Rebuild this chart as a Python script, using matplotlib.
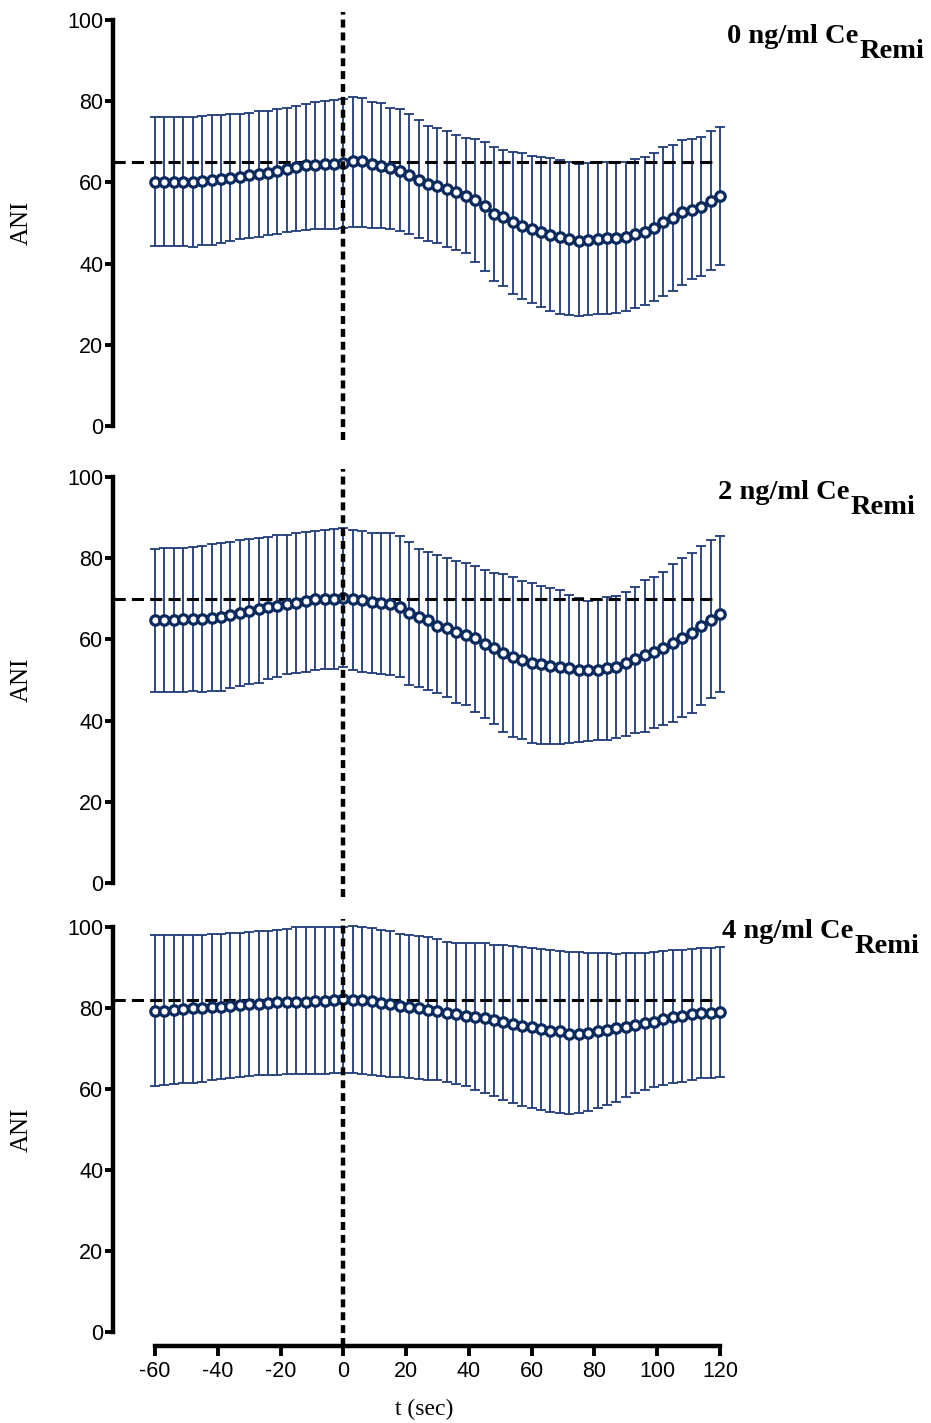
import numpy as np
import matplotlib
matplotlib.use('Agg')
import matplotlib.pyplot as plt

plt.rcParams['font.family'] = ['Liberation Sans', 'DejaVu Sans']
plt.rcParams['axes.unicode_minus'] = False

# sample times (sec), one point every 3 s
t = np.arange(-60, 121, 3)

# 0 ng/ml
mean_0 = [60.2, 60.2, 60.2, 60.1, 60.0, 60.3, 60.5, 60.8, 61.0, 61.4,
          61.7, 62.0, 62.4, 62.8, 63.2, 63.7, 64.2, 64.4, 64.5, 64.6,
          64.9, 65.3, 65.3, 64.6, 64.1, 63.6, 62.8, 61.7, 60.6, 59.7,
          59.0, 58.4, 57.6, 56.7, 55.6, 54.3, 52.2, 51.4, 50.2, 49.3,
          48.5, 47.9, 47.0, 46.6, 46.1, 45.6, 45.8, 46.1, 46.2, 46.4,
          46.6, 47.2, 47.9, 48.8, 50.2, 51.3, 52.6, 53.2, 54.0, 55.3, 56.7]
upper_0 = [76.2, 76.2, 76.2, 76.2, 76.2, 76.4, 76.6, 76.5, 76.8, 76.9,
           77.2, 77.5, 77.7, 78.0, 78.4, 78.8, 79.2, 79.7, 80.1, 80.2,
           80.5, 81.1, 80.9, 79.9, 79.5, 78.3, 78.1, 76.8, 75.4, 74.0,
           73.3, 72.7, 71.7, 71.0, 70.7, 69.9, 68.6, 68.0, 67.6, 67.2,
           66.6, 66.3, 66.1, 65.5, 65.0, 64.5, 64.7, 65.0, 65.0, 65.0,
           65.1, 65.8, 66.3, 67.2, 68.6, 69.2, 70.4, 70.7, 71.1, 72.7, 73.6]
lower_0 = [44.3, 44.3, 44.3, 44.3, 44.2, 44.6, 44.7, 45.0, 45.6, 46.1,
           46.2, 46.6, 47.0, 47.2, 47.9, 48.1, 48.3, 48.4, 48.5, 48.5,
           48.8, 49.1, 49.0, 48.7, 48.7, 48.4, 48.0, 47.2, 46.2, 45.6,
           45.0, 44.2, 43.3, 42.5, 40.5, 38.2, 35.7, 34.6, 32.4, 31.4,
           30.2, 29.4, 28.3, 27.5, 27.3, 27.2, 27.3, 27.5, 27.7, 27.9,
           28.3, 29.1, 29.8, 30.8, 31.9, 33.3, 34.7, 36.2, 37.0, 38.4, 39.7]

# 2 ng/ml
mean_2 = [64.8, 64.8, 64.9, 65.0, 65.1, 65.0, 65.3, 65.6, 66.0, 66.6,
          67.1, 67.5, 67.9, 68.3, 68.6, 69.0, 69.5, 69.9, 69.9, 70.0,
          70.1, 70.0, 69.7, 69.3, 69.0, 68.7, 67.9, 66.6, 65.4, 64.7,
          63.4, 62.7, 61.9, 61.1, 60.3, 58.9, 57.8, 56.6, 55.6, 54.9,
          54.3, 53.9, 53.4, 53.3, 52.9, 52.5, 52.4, 52.5, 52.9, 53.3,
          54.3, 55.1, 56.2, 57.0, 57.8, 59.0, 60.3, 61.5, 63.3, 64.8, 66.3]
upper_2 = [82.3, 82.4, 82.5, 82.6, 82.8, 83.0, 83.4, 83.7, 84.1, 84.4,
           84.7, 85.0, 85.3, 85.6, 85.8, 86.1, 86.5, 86.7, 86.9, 87.2,
           87.4, 86.9, 86.8, 86.3, 86.1, 86.1, 85.5, 84.1, 82.2, 81.6,
           80.8, 80.0, 79.4, 78.7, 78.1, 77.1, 76.4, 76.1, 75.3, 74.5,
           73.8, 73.2, 72.6, 72.2, 70.9, 70.1, 69.5, 69.8, 70.4, 70.6,
           71.7, 72.8, 74.6, 75.4, 76.7, 78.6, 80.0, 81.4, 83.0, 84.5, 85.5]
lower_2 = [47.0, 47.0, 47.1, 47.1, 47.3, 47.1, 47.4, 47.4, 48.0, 48.4,
           49.0, 49.3, 50.2, 50.7, 51.5, 51.8, 52.0, 52.5, 52.6, 52.8,
           53.3, 52.5, 52.0, 51.8, 51.5, 51.2, 50.8, 48.8, 48.2, 47.5,
           46.7, 45.9, 44.4, 43.8, 42.2, 40.6, 39.2, 37.3, 35.9, 35.4,
           34.6, 34.2, 34.2, 34.2, 34.4, 34.8, 35.0, 35.2, 35.2, 35.6,
           36.2, 36.9, 37.3, 38.1, 38.9, 39.7, 40.8, 41.9, 43.8, 45.5, 47.0]

# 4 ng/ml
mean_4 = [79.3, 79.3, 79.5, 79.7, 79.9, 79.9, 80.2, 80.3, 80.5, 80.7,
          80.9, 81.1, 81.3, 81.4, 81.5, 81.6, 81.6, 81.7, 81.8, 82.0,
          82.1, 82.0, 82.0, 81.8, 81.3, 81.0, 80.6, 80.3, 79.9, 79.5,
          79.2, 78.7, 78.5, 78.0, 77.9, 77.5, 77.0, 76.6, 76.0, 75.6,
          75.2, 74.7, 74.4, 74.2, 73.6, 73.6, 73.9, 74.2, 74.6, 75.0,
          75.4, 75.8, 76.2, 76.6, 77.2, 77.7, 78.0, 78.4, 78.7, 78.8, 79.1]
upper_4 = [98.0, 98.0, 98.0, 98.0, 98.0, 98.1, 98.3, 98.3, 98.4, 98.6,
           98.8, 99.0, 99.1, 99.3, 99.5, 99.9, 100.1, 100.1, 100.1, 100.1,
           100.1, 100.2, 100.1, 99.8, 99.3, 98.9, 98.3, 98.0, 97.8, 97.5,
           97.0, 96.4, 96.1, 96.0, 96.0, 96.0, 95.6, 95.6, 95.3, 95.1,
           94.7, 94.5, 94.3, 94.1, 93.9, 93.8, 93.7, 93.5, 93.5, 93.4,
           93.5, 93.5, 93.7, 93.9, 94.0, 94.2, 94.3, 94.5, 94.7, 94.9, 95.1]
lower_4 = [60.7, 61.0, 61.2, 61.4, 61.6, 61.8, 62.1, 62.4, 62.7, 63.0,
           63.2, 63.4, 63.5, 63.5, 63.6, 63.6, 63.6, 63.7, 63.7, 63.9,
           64.0, 63.9, 63.7, 63.5, 63.2, 63.0, 62.9, 62.6, 62.4, 62.2,
           62.1, 61.8, 61.2, 60.7, 59.8, 58.9, 58.3, 57.3, 56.6, 55.8,
           55.2, 54.8, 54.4, 54.0, 53.9, 54.1, 54.6, 55.2, 56.0, 56.9,
           58.1, 58.9, 59.8, 60.6, 61.0, 61.4, 61.8, 62.2, 62.6, 62.6, 62.9]

doses = ['0', '2', '4']
baselines = [65, 70, 82]
means = [mean_0, mean_2, mean_4]
uppers = [upper_0, upper_2, upper_4]
lowers = [lower_0, lower_2, lower_4]

W, H = 931, 1423
fig = plt.figure(figsize=(W / 100, H / 100), dpi=100)

# axes boxes in pixels: (top, bottom)
boxes = [(20, 426), (477, 883), (927, 1332)]
left_px, right_px = 113, 735
# title positions (left, bottom of text box) in pixels
title_pos = [(727, 49), (718, 505), (722, 944)]

err_col = '#1f3a78'
pt_col = '#0b2a5e'

for k, (top, bot) in enumerate(boxes):
    ax = fig.add_axes([left_px / W, 1 - bot / H,
                       (right_px - left_px) / W, (bot - top) / H])
    m = np.array(means[k])
    up = np.array(uppers[k])
    lo = np.array(lowers[k])
    eb = ax.errorbar(t, m, yerr=[m - lo, up - m], fmt='none', ecolor=err_col,
                     elinewidth=1.3, capsize=3.5, capthick=1.3, zorder=2)
    for art in eb.lines[1] + eb.lines[2]:
        art.set_clip_on(False)
    ax.plot(t, m, '-o', color=pt_col, lw=2.4, ms=6.8, mfc='white',
            mec=pt_col, mew=2.3, zorder=4, clip_on=False)
    ax.hlines(baselines[k], -73.4, 118.4, colors='black', linestyles=(0, (4, 2)),
              lw=2.2, zorder=3)
    ax.axvline(0, ymin=-0.035, ymax=1.02, color='black', ls=(0, (1.8, 1.1)),
               lw=3.2, clip_on=False, zorder=5)

    ax.set_xlim(-73.4, 124.8)
    ax.set_ylim(0, 100)
    ax.set_yticks([0, 20, 40, 60, 80, 100])
    for s in ['top', 'right']:
        ax.spines[s].set_visible(False)
    ax.spines['left'].set_linewidth(3.2)
    ax.tick_params(axis='y', direction='out', length=6, width=2.8,
                   labelsize=15.5, pad=1)
    if k < 2:
        ax.spines['bottom'].set_visible(False)
        ax.set_xticks([])
    else:
        ax.spines['bottom'].set_position(('outward', 10))
        ax.spines['bottom'].set_bounds(-60, 120)
        ax.spines['bottom'].set_linewidth(3.2)
        ax.set_xticks(range(-60, 121, 20))
        ax.tick_params(axis='x', direction='out', length=7, width=2.8,
                       labelsize=15.5, pad=4)
        ax.set_xlabel('t (sec)', family='Liberation Serif', fontsize=17,
                      labelpad=12)

    fig.text(22 / W, 1 - (top + bot) / 2 / H, 'ANI', rotation=90,
             family='Liberation Serif', fontsize=18, ha='center', va='center')

    tx, ty = title_pos[k]
    t1 = fig.text(tx / W, 1 - ty / H, doses[k] + ' ng/ml Ce',
                  family='Liberation Serif', weight='bold', fontsize=20.5,
                  ha='left', va='bottom')
    ax.annotate('Remi', xy=(1, 0), xycoords=t1, xytext=(0.5, -11),
                textcoords='offset points', family='Liberation Serif',
                weight='bold', fontsize=20.5, ha='left', va='bottom',
                annotation_clip=False)

fig.savefig('out.png', dpi=100)
